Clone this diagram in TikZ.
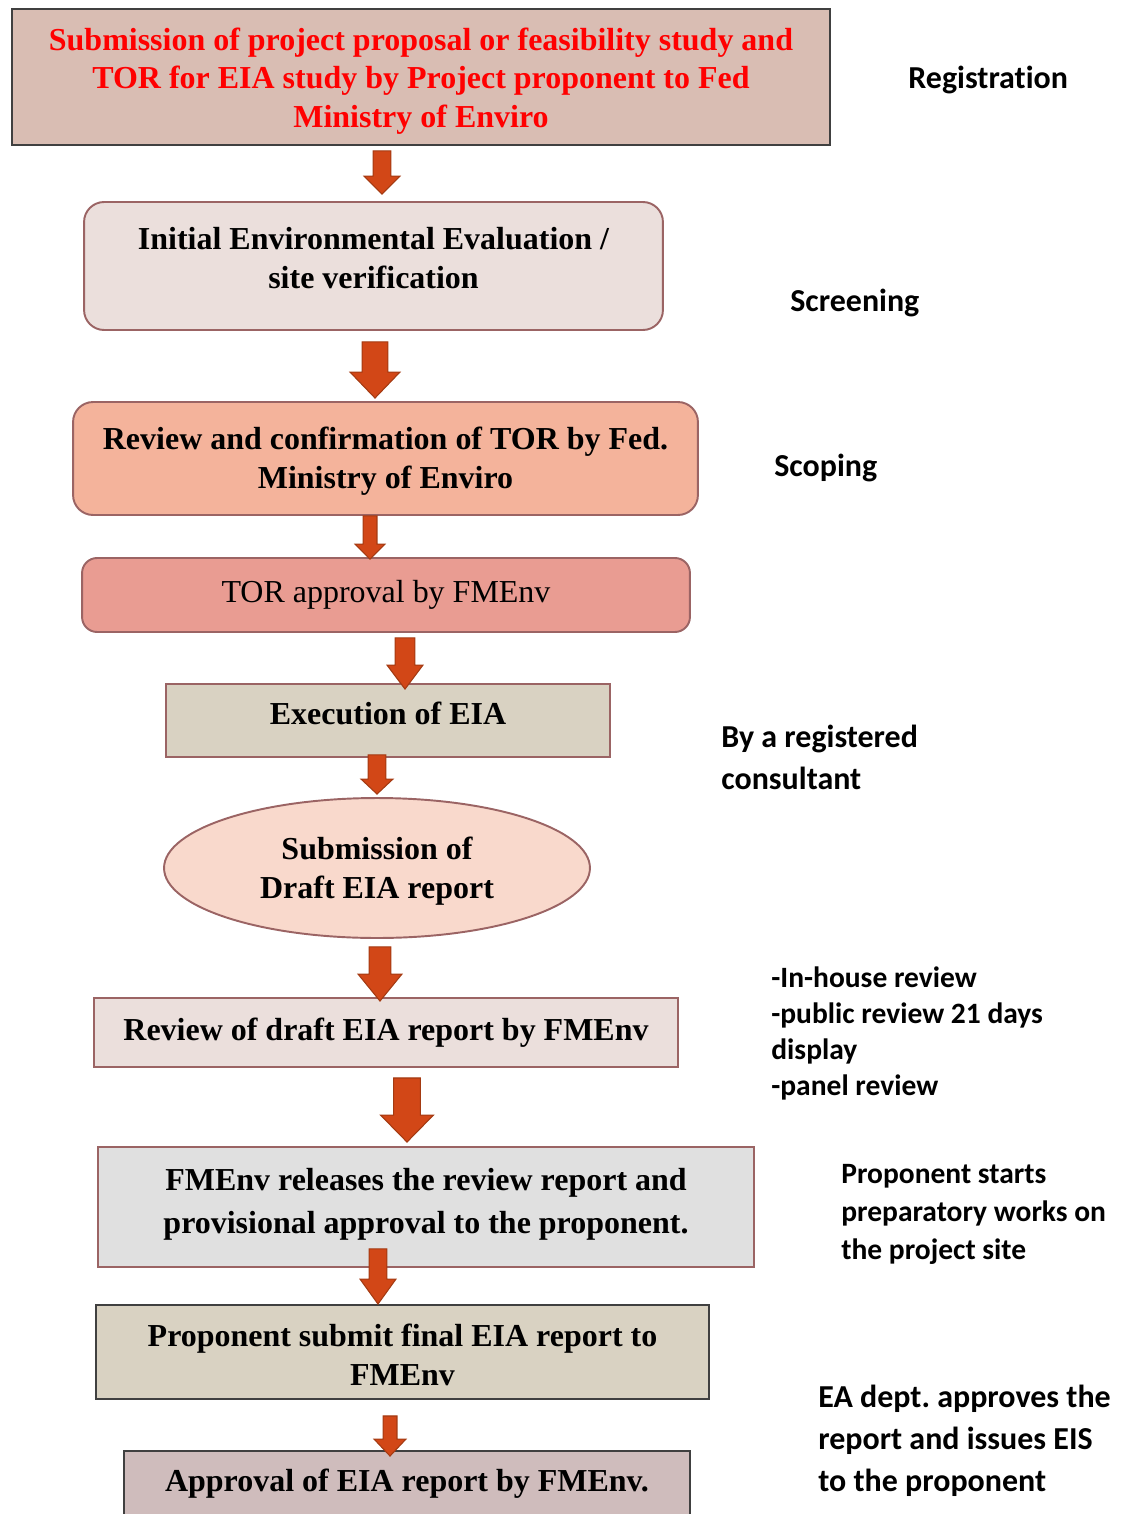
\documentclass[tikz,border=0pt]{standalone}
\usepackage{fontspec}
\usepackage{graphicx}
\setmainfont{Liberation Serif}
\newfontfamily\notefont[Ligatures=CommonOff]{Carlito}
\usepackage{tikz}
\usetikzlibrary{shapes.geometric,calc,positioning}
\frenchspacing

\definecolor{boxline}{HTML}{9B6464}
\definecolor{darkline}{HTML}{404040}
\definecolor{arrowfill}{HTML}{D24717}
\definecolor{arrowline}{HTML}{A33A12}

\def\pxu{0.5669pt}
% block arrow: start, tip, half shaft, half head, head length (px)
\newcommand\flowarrow[5]{%
  \draw[flowarrow] let \p1=#1, \p2=#2 in
    (\x1-#3*\pxu,\y1) -- (\x1+#3*\pxu,\y1) -- (\x1+#3*\pxu,\y2+#5*\pxu)
    -- (\x1+#4*\pxu,\y2+#5*\pxu) -- (\x1,\y2) -- (\x1-#4*\pxu,\y2+#5*\pxu)
    -- (\x1-#3*\pxu,\y2+#5*\pxu) -- cycle;}
% centred lines of a box, raised by #1
\newcommand\boxlines[2]{\raisebox{#1}[0pt][0pt]{\begin{tabular}{@{}c@{}}#2\end{tabular}}}

\begin{document}
\begin{tikzpicture}[x=0.02cm, y=-0.02cm,
    stepbox/.style={draw=boxline, line width=1.1pt, inner sep=0pt,
      font=\bfseries\fontsize{18.2}{22}\selectfont},
    roundbox/.style={stepbox, rounded corners=0.4cm},
    flowarrow/.style={fill=arrowfill, draw=arrowline, line width=0.6pt, line join=miter},
    note/.style={anchor=west, align=left, inner sep=0pt, font=\notefont\bfseries\fontsize{18.2}{23.8}\selectfont}]
   \useasboundingbox (0,0) rectangle (1131,1514);
   % process boxes
   \node[stepbox, draw=darkline, fill={rgb,255:red,217;green,189;blue,179}, text=red,
     minimum width=16.36cm, minimum height=2.72cm] (b1) at (421,77)
     {\boxlines{-6.6pt}{Submission of project proposal or feasibility study and\\TOR for EIA study by Project proponent to Fed\\Ministry of Enviro}};
   \node[roundbox, fill={rgb,255:red,235;green,223;blue,220},
     minimum width=11.58cm, minimum height=2.56cm] (b2) at (373.5,266)
     {\boxlines{-1.8pt}{Initial Environmental Evaluation /\\site verification}};
   \node[roundbox, fill={rgb,255:red,244;green,179;blue,155},
     minimum width=12.5cm, minimum height=2.26cm] (b3) at (385.5,458.5)
     {\boxlines{-5.8pt}{Review and confirmation of TOR by Fed.\\Ministry of Enviro}};
   \node[roundbox, rounded corners=0.3cm, fill={rgb,255:red,233;green,156;blue,146}, font=\fontsize{18.2}{22}\selectfont,
     minimum width=12.16cm, minimum height=1.48cm] (b4) at (386,595)
     {\boxlines{-4.4pt}{TOR approval by FMEnv}};
   \node[stepbox, fill={rgb,255:red,217;green,210;blue,194},
     minimum width=8.88cm, minimum height=1.46cm] (b5) at (388,720.5)
     {\boxlines{-2.4pt}{Execution of EIA}};
   \node[stepbox, ellipse, fill={rgb,255:red,249;green,217;blue,204},
     minimum width=8.52cm, minimum height=2.8cm] (b6) at (377,868)
     {\boxlines{-6.1pt}{Submission of\\Draft EIA report}};
   \node[stepbox, fill={rgb,255:red,235;green,223;blue,220},
     minimum width=11.68cm, minimum height=1.38cm] (b7) at (386,1032.5)
     {\boxlines{-4.6pt}{Review of draft EIA report by FMEnv}};
   \node[stepbox, fill={rgb,255:red,224;green,224;blue,224}, font=\bfseries\fontsize{18.2}{24.4}\selectfont,
     minimum width=13.12cm, minimum height=2.4cm] (b8) at (426,1207)
     {\boxlines{-2.4pt}{FMEnv releases the review report and\\provisional approval to the proponent.}};
   \node[stepbox, draw=darkline, fill={rgb,255:red,217;green,210;blue,194},
     minimum width=12.26cm, minimum height=1.88cm] (b9) at (402.5,1352)
     {\boxlines{-7.8pt}{Proponent submit final EIA report to\\FMEnv}};
   \node[stepbox, draw=darkline, fill={rgb,255:red,207;green,188;blue,188},
     minimum width=11.32cm, minimum height=1.76cm] (b10) at (407,1495)
     {\boxlines{1.9pt}{Approval of EIA report by FMEnv.}};
   % arrows
   \flowarrow{($(b1.south)+(-39,5)$)}{($(b2.north)+(0,-7)$)}{9}{18}{18}
   \flowarrow{($(b2.south)+(1.5,11)$)}{($(b3.north)+(0,-3)$)}{13}{25}{26}
   \flowarrow{($(b3.south)+(-15.5,0)$)}{($(b4.north)+(0,2)$)}{7}{15}{15}
   \flowarrow{($(b4.south)+(19,5)$)}{($(b5.north)+(0,6)$)}{10}{18}{24}
   \flowarrow{($(b5.south)+(-11,-3)$)}{($(b6.north)+(0,-3)$)}{9}{16}{15}
   \flowarrow{($(b6.south)+(3,8)$)}{($(b7.north)+(0,4)$)}{11}{22}{27}
   \flowarrow{($(b7.south)+(21,10)$)}{($(b8.north)+(0,-4)$)}{13.5}{26.5}{27}
   \flowarrow{($(b8.south)+(-48,-19)$)}{($(b9.north)+(0,0)$)}{9}{18}{25}
   \flowarrow{($(b9.south)+(-12.5,16)$)}{($(b10.north)+(0,6)$)}{7}{16}{17}
   % stage notes
   \node[note] (n1) at (908,80) {Registration};
   \node[note] (n2) at (790,303) {Screening};
   \node[note] (n3) at (774,468) {Scoping};
   \node[note] (n4) at (721,757) {By a registered\\consultant};
   \node[note, font=\notefont\bfseries\fontsize{16.8}{20.4}\selectfont] (n5) at (771,1033.5) {-In-house review\\-public review 21 days\\display\\-panel review};
   \node[note, font=\notefont\bfseries\fontsize{16.8}{21.8}\selectfont] (n6) at (841,1214.5) {Proponent starts\\preparatory works on\\the project site};
   \node[note] (n7) at (818,1441) {EA dept. approves the\\report and issues EIS\\to the proponent};
\end{tikzpicture}
\end{document}
